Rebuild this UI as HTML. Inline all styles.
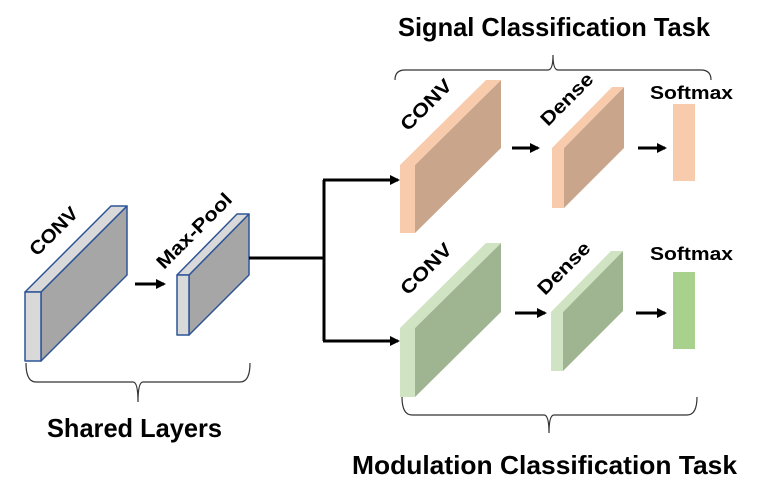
<!DOCTYPE html>
<html><head><meta charset="utf-8"><style>
html,body{margin:0;padding:0;background:#fff;}
svg{display:block;}
text{font-family:"Liberation Sans",sans-serif;font-weight:bold;fill:#000;}
</style></head><body>
<svg width="781" height="493" viewBox="0 0 781 493" xmlns="http://www.w3.org/2000/svg">
<defs>
<marker id="ah" markerWidth="10" markerHeight="10" refX="8" refY="5" orient="auto" markerUnits="userSpaceOnUse">
<path d="M0,0 L10,5 L0,10 z" fill="#000"/>
</marker>
</defs>

<!-- Titles -->
<text x="398" y="36" font-size="26" textLength="312" lengthAdjust="spacingAndGlyphs">Signal Classification Task</text>
<text x="47" y="437" font-size="26" textLength="175" lengthAdjust="spacingAndGlyphs">Shared Layers</text>
<text x="352" y="474" font-size="26" textLength="385" lengthAdjust="spacingAndGlyphs">Modulation Classification Task</text>

<!-- Braces -->
<path d="M395,80 Q395,70 405,70 L548,70 Q553,70 553,55 Q553,70 558,70 L701,70 Q711,70 711,80" fill="none" stroke="#333" stroke-width="1.2"/>
<path d="M26,363 Q26,382 36,382 L133,382 Q138,382 138,402 Q138,382 143,382 L240,382 Q250,382 250,363" fill="none" stroke="#333" stroke-width="1.2"/>
<path d="M402,397 Q402,415 412,415 L544,415 Q549,415 549,433 Q549,415 554,415 L687,415 Q697,415 697,397" fill="none" stroke="#333" stroke-width="1.2"/>

<!-- Shared CONV -->
<g stroke="#2f5597" stroke-width="1.5" stroke-linejoin="round">
<polygon points="41,292 127,206 127,275 41,361" fill="#a6a6a6"/>
<polygon points="25,292 41,292 127,206 111,206" fill="#d9d9d9"/>
<rect x="25" y="292" width="16" height="69" fill="#d9d9d9"/>
<!-- Max pool -->
<polygon points="189,275 249,214 249,275 189,335" fill="#a6a6a6"/>
<polygon points="177,275 189,275 249,214 237,214" fill="#d9d9d9"/>
<rect x="177" y="275" width="12" height="60" fill="#d9d9d9"/>
</g>
<text font-size="19" textLength="60" lengthAdjust="spacingAndGlyphs" transform="translate(37,257) rotate(-45)">CONV</text>
<text font-size="19" textLength="98" lengthAdjust="spacingAndGlyphs" transform="translate(164,270) rotate(-45)">Max-Pool</text>
<line x1="135" y1="284" x2="164" y2="284" stroke="#000" stroke-width="3" marker-end="url(#ah)"/>

<!-- connector -->
<polyline points="249,258 324,258" fill="none" stroke="#000" stroke-width="3"/>
<polyline points="324,180 324,341" fill="none" stroke="#000" stroke-width="3"/>
<line x1="323" y1="180" x2="398" y2="180" stroke="#000" stroke-width="3" marker-end="url(#ah)"/>
<line x1="323" y1="341" x2="398" y2="341" stroke="#000" stroke-width="3" marker-end="url(#ah)"/>

<!-- Orange row -->
<polygon points="415,165 501,80 501,148 415,233" fill="#c9a58c"/>
<polygon points="400,165 415,165 501,80 486,80" fill="#f8cbad"/>
<rect x="400" y="165" width="15" height="68" fill="#f8cbad"/>
<polygon points="564,148 624,87 624,148 564,208" fill="#c9a58c"/>
<polygon points="552,148 564,148 624,87 612,87" fill="#f8cbad"/>
<rect x="552" y="148" width="12" height="60" fill="#f8cbad"/>
<rect x="673" y="104" width="22" height="77" fill="#f8cbad"/>
<text font-size="19" textLength="64" lengthAdjust="spacingAndGlyphs" transform="translate(408,132) rotate(-45)">CONV</text>
<text font-size="19" textLength="66" lengthAdjust="spacingAndGlyphs" transform="translate(548,127) rotate(-45)">Dense</text>
<text x="650" y="99" font-size="18" textLength="83" lengthAdjust="spacingAndGlyphs">Softmax</text>
<line x1="512" y1="148" x2="538" y2="148" stroke="#000" stroke-width="3" marker-end="url(#ah)"/>
<line x1="638" y1="148" x2="665" y2="148" stroke="#000" stroke-width="3" marker-end="url(#ah)"/>

<!-- Green row -->
<polygon points="415,328 501,243 501,312 415,397" fill="#9fb591"/>
<polygon points="400,328 415,328 501,243 486,243" fill="#d0e4c3"/>
<rect x="400" y="328" width="15" height="69" fill="#d0e4c3"/>
<polygon points="563,312 623,251 623,311 563,371" fill="#9fb591"/>
<polygon points="551,312 563,312 623,251 611,251" fill="#d0e4c3"/>
<rect x="551" y="312" width="12" height="59" fill="#d0e4c3"/>
<rect x="673" y="272" width="22" height="77" fill="#a9d18e"/>
<text font-size="19" textLength="64" lengthAdjust="spacingAndGlyphs" transform="translate(408,296) rotate(-45)">CONV</text>
<text font-size="19" textLength="66" lengthAdjust="spacingAndGlyphs" transform="translate(545,296) rotate(-45)">Dense</text>
<text x="650" y="260" font-size="18" textLength="83" lengthAdjust="spacingAndGlyphs">Softmax</text>
<line x1="515" y1="313" x2="545" y2="313" stroke="#000" stroke-width="3" marker-end="url(#ah)"/>
<line x1="636" y1="313" x2="665" y2="313" stroke="#000" stroke-width="3" marker-end="url(#ah)"/>
</svg>
</body></html>
